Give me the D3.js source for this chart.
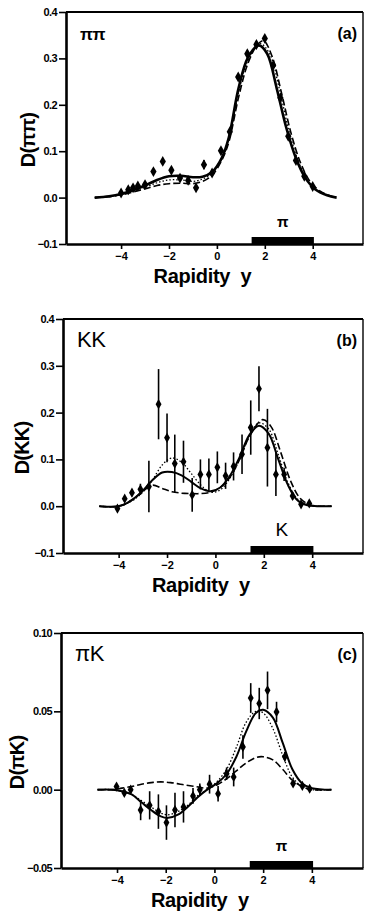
<!DOCTYPE html>
<html>
<head>
<meta charset="utf-8">
<script src="https://cdn.jsdelivr.net/npm/d3@7"></script>
<style>
  html, body { margin: 0; padding: 0; background: #fff; }
  svg { display: block; }
  text { font-family: "Liberation Sans", Arial, sans-serif; fill: #000; }
</style>
</head>
<body>
<svg id="chart" width="365" height="918"></svg>
<script>
// ---------- shared axis data ----------
const xTicks = [-4, -2, 0, 2, 4];
const xTickLabels = ["\u22124", "\u22122", "0", "2", "4"];
const xTitle = "Rapidity\u00a0\u00a0y";

// ---------- panel (a): pi pi ----------
const ppYTicks = [-0.1, 0.0, 0.1, 0.2, 0.3, 0.4];
const ppYTickLabels = ["\u22120.1", "0.0", "0.1", "0.2", "0.3", "0.4"];
const ppX   = [-4.0, -3.7, -3.5, -3.3, -3.0, -2.65, -2.26, -1.9, -1.54, -1.2, -0.87, -0.54, -0.2, 0.17, 0.54, 0.89, 1.27, 1.65, 2.0, 2.35, 2.65, 2.98, 3.3, 3.65, 4.0];
const ppY   = [0.010, 0.017, 0.021, 0.025, 0.028, 0.056, 0.078, 0.059, 0.042, 0.037, 0.021, 0.071, 0.053, 0.101, 0.142, 0.260, 0.310, 0.330, 0.343, 0.285, 0.215, 0.132, 0.080, 0.046, 0.024];
const ppErr = [0.004, 0.004, 0.004, 0.004, 0.005, 0.005, 0.006, 0.006, 0.006, 0.006, 0.007, 0.010, 0.008, 0.006, 0.006, 0.007, 0.007, 0.007, 0.007, 0.007, 0.006, 0.006, 0.005, 0.004, 0.004];
const ppSolid  = [[-5.1,0],[-4.5,0.003],[-4,0.008],[-3.5,0.016],[-3,0.026],[-2.5,0.038],[-2,0.046],[-1.5,0.047],[-1,0.044],[-0.6,0.045],[-0.2,0.055],[0.2,0.085],[0.5,0.13],[0.9,0.235],[1.3,0.302],[1.75,0.328],[2.1,0.31],[2.5,0.235],[2.9,0.15],[3.3,0.085],[3.7,0.042],[4.1,0.018],[4.6,0.005],[5,0]];
const ppDashed = [[-5.1,0],[-4.5,0.002],[-4,0.006],[-3.5,0.012],[-3,0.019],[-2.5,0.026],[-2,0.03],[-1.5,0.031],[-1,0.03],[-0.6,0.035],[-0.2,0.048],[0.2,0.08],[0.5,0.12],[0.9,0.215],[1.3,0.29],[1.7,0.33],[1.95,0.338],[2.3,0.305],[2.7,0.225],[3.1,0.138],[3.5,0.074],[3.9,0.034],[4.4,0.011],[5,0]];
const ppDotted = [[-5.1,0],[-4.5,0.002],[-4,0.007],[-3.5,0.014],[-3,0.022],[-2.5,0.032],[-2,0.038],[-1.5,0.038],[-1,0.035],[-0.6,0.04],[-0.2,0.052],[0.2,0.083],[0.5,0.125],[0.9,0.225],[1.3,0.296],[1.8,0.332],[2.2,0.31],[2.6,0.236],[3,0.145],[3.4,0.078],[3.8,0.036],[4.3,0.012],[5,0]];

// ---------- panel (b): K K ----------
const kkYTicks = [-0.1, 0.0, 0.1, 0.2, 0.3, 0.4];
const kkYTickLabels = ["\u22120.1", "0.0", "0.1", "0.2", "0.3", "0.4"];
const kkX   = [-4.05, -3.75, -3.45, -3.1, -2.75, -2.35, -2.0, -1.68, -1.32, -0.96, -0.62, -0.27, 0.08, 0.42, 0.75, 1.1, 1.46, 1.8, 2.15, 2.5, 2.84, 3.19, 3.54, 3.88];
const kkY   = [-0.005, 0.016, 0.029, 0.036, 0.042, 0.218, 0.146, 0.091, 0.095, 0.024, 0.068, 0.068, 0.083, 0.065, 0.085, 0.111, 0.168, 0.251, 0.125, 0.068, 0.068, 0.022, 0.004, 0.006];
const kkErr = [0.004, 0.006, 0.008, 0.012, 0.055, 0.075, 0.052, 0.062, 0.045, 0.036, 0.032, 0.034, 0.034, 0.028, 0.03, 0.042, 0.058, 0.048, 0.083, 0.046, 0.014, 0.008, 0.004, 0.004];
const kkSolid  = [[-4.8,0],[-4.2,-0.001],[-3.8,0.003],[-3.4,0.015],[-3,0.033],[-2.6,0.056],[-2.2,0.072],[-1.8,0.073],[-1.4,0.066],[-1,0.052],[-0.6,0.038],[-0.2,0.032],[0.2,0.04],[0.6,0.065],[1,0.105],[1.4,0.152],[1.8,0.172],[2.2,0.155],[2.6,0.1],[3,0.045],[3.4,0.012],[3.8,0.002],[4.2,0],[4.8,0]];
const kkDotted = [[-4.8,0],[-4.2,-0.001],[-3.8,0.003],[-3.4,0.013],[-3,0.03],[-2.6,0.056],[-2.2,0.088],[-1.8,0.103],[-1.4,0.094],[-1,0.07],[-0.6,0.045],[-0.2,0.03],[0.2,0.035],[0.6,0.06],[1,0.1],[1.4,0.15],[1.8,0.178],[2.2,0.165],[2.6,0.11],[3,0.05],[3.4,0.015],[3.8,0.003],[4.2,0],[4.8,0]];
const kkDashed = [[-4.8,0],[-4.2,-0.001],[-3.8,0.003],[-3.4,0.015],[-3,0.032],[-2.6,0.045],[-2.2,0.038],[-1.8,0.031],[-1.4,0.028],[-1,0.027],[-0.6,0.027],[-0.2,0.03],[0.2,0.04],[0.6,0.062],[1,0.1],[1.4,0.148],[1.95,0.185],[2.3,0.17],[2.7,0.115],[3.1,0.055],[3.5,0.017],[3.9,0.003],[4.3,0],[4.8,0]];

// ---------- panel (c): pi K ----------
const pkYTicks = [-0.05, 0.0, 0.05, 0.10];
const pkYTickLabels = ["\u22120.05", "0.00", "0.05", "0.10"];
const pkX   = [-4.02, -3.7, -3.44, -3.03, -2.66, -2.3, -1.97, -1.62, -1.27, -0.88, -0.6, -0.2, 0.15, 0.5, 0.79, 1.17, 1.49, 1.84, 2.18, 2.55, 2.89, 3.23, 3.61, 3.91];
const pkY   = [0.002, -0.002, 0.0, -0.013, -0.010, -0.014, -0.021, -0.013, -0.011, -0.004, 0.0, 0.0035, -0.0026, 0.0102, 0.0081, 0.0273, 0.0585, 0.055, 0.0634, 0.0496, 0.021, 0.004, 0.0024, 0.0006];
const pkErr = [0.001, 0.002, 0.002, 0.0065, 0.009, 0.011, 0.011, 0.011, 0.010, 0.005, 0.004, 0.006, 0.005, 0.004, 0.006, 0.0075, 0.0095, 0.010, 0.012, 0.0065, 0.003, 0.001, 0.001, 0.001];
const pkSolid  = [[-4.8,0],[-4.2,0],[-3.8,-0.001],[-3.4,-0.003],[-3,-0.008],[-2.6,-0.013],[-2.2,-0.017],[-1.9,-0.018],[-1.5,-0.016],[-1.1,-0.011],[-0.7,-0.005],[-0.3,0.0],[0.1,0.004],[0.5,0.01],[0.9,0.021],[1.3,0.037],[1.7,0.049],[2.0,0.051],[2.4,0.046],[2.8,0.03],[3.2,0.013],[3.6,0.004],[4,0.001],[4.8,0]];
const pkDotted = [[-4.8,0],[-4.2,0],[-3.8,-0.001],[-3.4,-0.003],[-3,-0.007],[-2.6,-0.011],[-2.2,-0.015],[-1.9,-0.016],[-1.5,-0.014],[-1.1,-0.01],[-0.7,-0.004],[-0.3,0.0],[0.1,0.005],[0.5,0.013],[0.9,0.027],[1.3,0.043],[1.7,0.05],[2.0,0.049],[2.4,0.039],[2.8,0.022],[3.2,0.008],[3.6,0.002],[4,0],[4.8,0]];
const pkDashed = [[-4.8,0],[-4.2,0],[-3.8,0.001],[-3.4,0.002],[-3,0.0035],[-2.6,0.0045],[-2.2,0.005],[-1.8,0.0045],[-1.4,0.0035],[-1,0.0025],[-0.6,0.0015],[-0.3,0.001],[0.1,0.003],[0.5,0.007],[0.9,0.012],[1.3,0.017],[1.7,0.0205],[2,0.021],[2.4,0.019],[2.8,0.013],[3.2,0.006],[3.6,0.002],[4,0],[4.8,0]];

// acceptance bar
const barRange = [1.45, 4.05];

// ---------- layout ----------
const svg = d3.select("#chart");
const panels = [
  { top: 12, bottom: 244, left: 66, right: 363, yDomain: [-0.1, 0.4], yTicks: ppYTicks, yLabels: ppYTickLabels,
    xs: ppX, ys: ppY, es: ppErr, solid: ppSolid, dashed: ppDashed, dotted: ppDotted,
    yTitle: "D(\u03c0\u03c0)", yTitleX: 28, tag: "\u03c0\u03c0", tagSize: 17, tagWeight: "bold", letter: "(a)",
    barLabel: "\u03c0", barLabelSize: 15, barLabelWeight: "bold", solidW: 2.6, diam: 34 },
  { top: 319, bottom: 553, left: 63, right: 363, yDomain: [-0.1, 0.4], yTicks: kkYTicks, yLabels: kkYTickLabels,
    xs: kkX, ys: kkY, es: kkErr, solid: kkSolid, dashed: kkDashed, dotted: kkDotted,
    yTitle: "D(KK)", yTitleX: 22, tag: "KK", tagSize: 22, tagWeight: "normal", letter: "(b)",
    barLabel: "K", barLabelSize: 19, barLabelWeight: "normal", solidW: 2.0, diam: 30 },
  { top: 633, bottom: 868, left: 61, right: 363, yDomain: [-0.05, 0.10], yTicks: pkYTicks, yLabels: pkYTickLabels,
    xs: pkX, ys: pkY, es: pkErr, solid: pkSolid, dashed: pkDashed, dotted: pkDotted,
    yTitle: "D(\u03c0K)", yTitleX: 17, tag: "\u03c0K", tagSize: 22, tagWeight: "normal", letter: "(c)",
    barLabel: "\u03c0", barLabelSize: 15, barLabelWeight: "bold", solidW: 2.0, diam: 30 }
];

panels.forEach(p => {
  const g = svg.append("g");
  const x = d3.scaleLinear().domain([-6.3, 6.1]).range([p.left, p.right]);
  const y = d3.scaleLinear().domain(p.yDomain).range([p.bottom, p.top]);

  // frame: top and right
  g.append("line").attr("x1", p.left).attr("x2", p.right).attr("y1", p.top).attr("y2", p.top)
    .attr("stroke", "#000").attr("stroke-width", 1.8);
  g.append("line").attr("x1", p.right).attr("x2", p.right).attr("y1", p.top).attr("y2", p.bottom)
    .attr("stroke", "#000").attr("stroke-width", 1.4);

  // y axis
  const yAxis = d3.axisLeft(y).tickValues(p.yTicks).tickSize(7).tickSizeOuter(0)
    .tickFormat((d, i) => p.yLabels[i]);
  const ya = g.append("g").attr("transform", `translate(${p.left},0)`).call(yAxis);
  ya.select(".domain").attr("stroke-width", 2.6);
  ya.selectAll(".tick line").attr("stroke-width", 1.6);
  ya.selectAll(".tick text").attr("font-size", 11).attr("font-weight", "bold")
    .attr("letter-spacing", "-0.6px").attr("x", -9);

  // x axis
  const xAxis = d3.axisBottom(x).tickValues(xTicks).tickSize(5).tickSizeOuter(0)
    .tickFormat((d, i) => xTickLabels[i]);
  const xa = g.append("g").attr("transform", `translate(0,${p.bottom})`).call(xAxis);
  xa.select(".domain").attr("stroke-width", 2.6);
  xa.selectAll(".tick line").attr("stroke-width", 1.6);
  xa.selectAll(".tick text").attr("font-size", 11).attr("font-weight", "bold").attr("y", 8);

  // axis titles
  g.append("text").attr("x", x(-0.6)).attr("y", p.bottom + 39)
    .attr("text-anchor", "middle").attr("font-size", 20).attr("font-weight", "bold")
    .attr("letter-spacing", "-0.3px").text(xTitle);
  g.append("text").attr("transform", `translate(${p.yTitleX},${(p.top + p.bottom) / 2 + 12}) rotate(-90)`)
    .attr("text-anchor", "middle").attr("dominant-baseline", "central")
    .attr("font-size", 20).attr("font-weight", "bold").attr("letter-spacing", "-0.8px").text(p.yTitle);

  // panel tags
  g.append("text").attr("x", p.left + 14).attr("y", p.top + 28).attr("font-size", p.tagSize)
    .attr("font-weight", p.tagWeight).attr("letter-spacing", "-0.5px").text(p.tag);
  g.append("text").attr("x", p.right - 6).attr("y", p.top + 27).attr("text-anchor", "end")
    .attr("font-size", 16).attr("font-weight", "bold").text(p.letter);

  // acceptance bar
  g.append("rect").attr("x", x(barRange[0])).attr("width", x(barRange[1]) - x(barRange[0]))
    .attr("y", p.bottom - 7).attr("height", 7).attr("fill", "#000");
  g.append("text").attr("x", x(2.75)).attr("y", p.bottom - 17).attr("text-anchor", "middle")
    .attr("font-size", p.barLabelSize).attr("font-weight", p.barLabelWeight).text(p.barLabel);

  // curves
  const line = d3.line().x(d => x(d[0])).y(d => y(d[1])).curve(d3.curveCatmullRom.alpha(0.5));
  g.append("path").attr("d", line(p.dotted)).attr("fill", "none").attr("stroke", "#000")
    .attr("stroke-width", 1.3).attr("stroke-dasharray", "1.5,2");
  g.append("path").attr("d", line(p.dashed)).attr("fill", "none").attr("stroke", "#000")
    .attr("stroke-width", 1.6).attr("stroke-dasharray", "7,3");
  g.append("path").attr("d", line(p.solid)).attr("fill", "none").attr("stroke", "#000")
    .attr("stroke-width", p.solidW);

  // error bars
  const pts = p.xs.map((v, i) => ({ x: v, y: p.ys[i], e: p.es[i] }));
  g.selectAll(".eb").data(pts).enter().append("line")
    .attr("x1", d => x(d.x)).attr("x2", d => x(d.x))
    .attr("y1", d => y(d.y - d.e)).attr("y2", d => y(d.y + d.e))
    .attr("stroke", "#000").attr("stroke-width", 1.6);
  // diamonds
  g.selectAll(".pt").data(pts).enter().append("path")
    .attr("d", d3.symbol().type(d3.symbolDiamond).size(p.diam))
    .attr("transform", d => `translate(${x(d.x)},${y(d.y)})`)
    .attr("fill", "#000");
});
</script>
</body>
</html>
